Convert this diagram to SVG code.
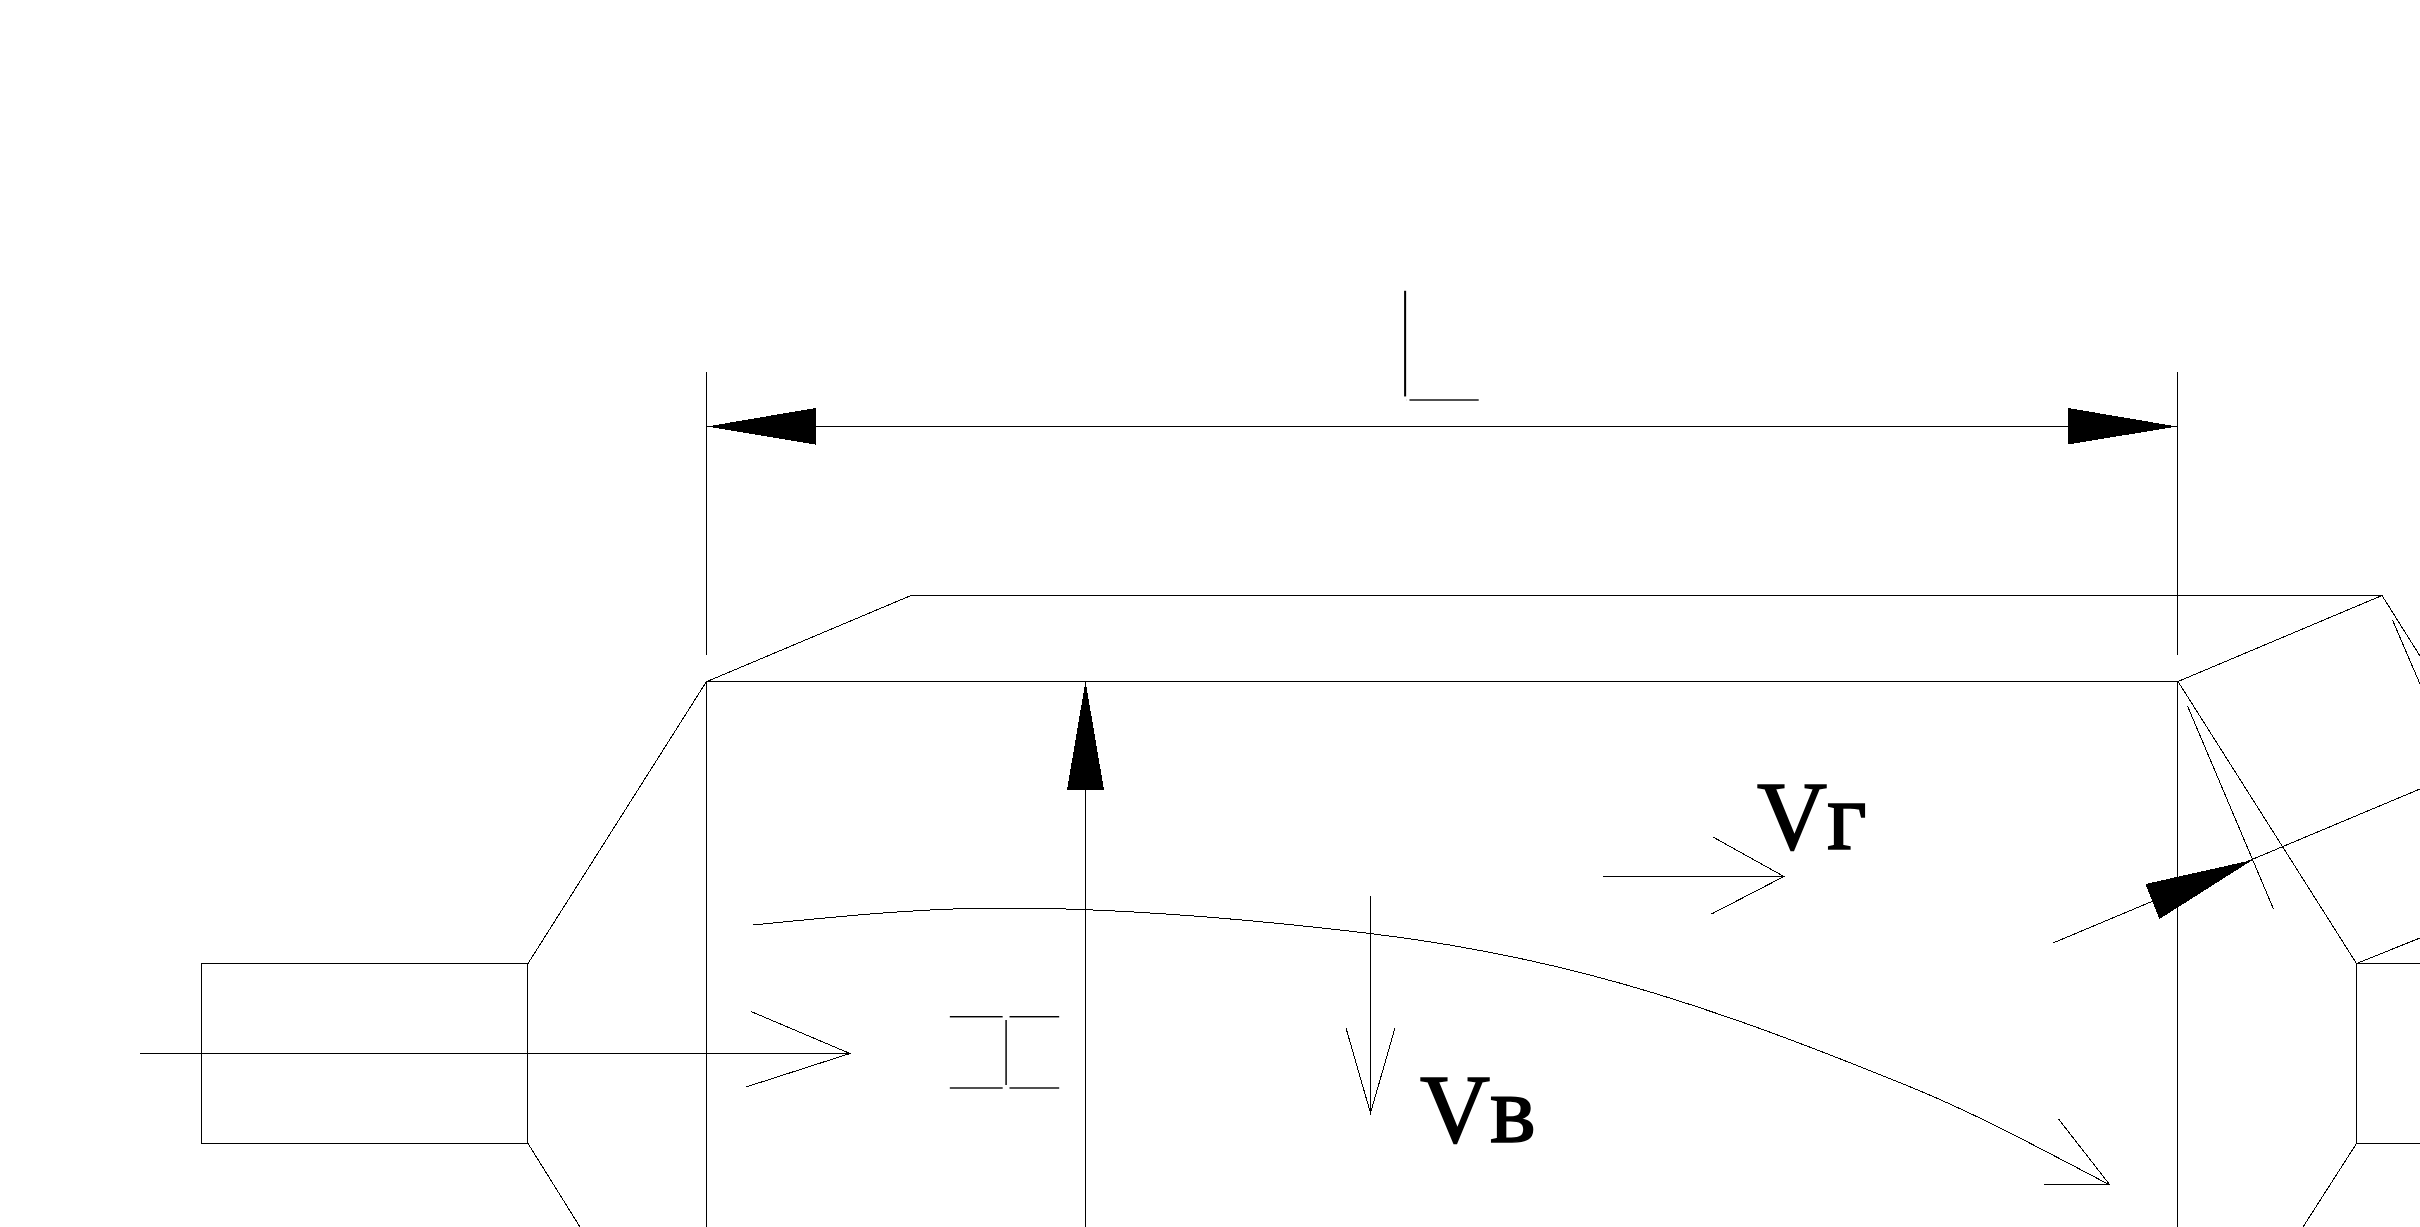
<svg xmlns="http://www.w3.org/2000/svg" width="2420" height="1227" viewBox="0 0 2420 1227">
<style>
.l{fill:none;stroke:#000;stroke-width:1;shape-rendering:crispEdges}
.h{fill:#000;stroke:none;shape-rendering:crispEdges}
.v{font-family:"Liberation Serif","Times New Roman",serif;font-size:97px;fill:#000;stroke:#000;stroke-width:1.6px}
.s{font-family:Roboto,"Liberation Sans",sans-serif;font-weight:100;font-size:158px;fill:#000;stroke:#fff;stroke-width:2.6px}
</style>
<rect width="2420" height="1227" fill="#fff"/>
<g id="labels">
<text id="label-L" class="s" transform="translate(1383 401.5) scale(1.26 1)">L</text>
<text id="label-H" class="s" text-anchor="middle" transform="translate(948 1052.5) rotate(90) scale(.94 1)">H</text>
<text id="label-Vg" class="v" x="1757" y="849">Vг</text>
<text id="label-Vv" class="v" x="1420" y="1142">Vв</text>
</g>
<g id="body">
<rect class="l" x="201.5" y="963.5" width="326" height="180"/>
<path class="l" d="M528 963.5L706.5 681.5M528 1143.5L580 1227"/>
<path class="l" d="M707 681.5H2178M707 681.5L911 595.5H2382L2178 681.5"/>
<path class="l" d="M706.5 681.5V1227M2177.5 681.5V1227"/>
<path class="l" d="M2178 681.5L2356.5 963.5V1143.5L2303 1227M2356.5 963.5H2420M2356.5 1143.5H2420M2356.5 963.5L2420 938M2382 595.5L2420 656"/>
</g>
<g id="connectors">
<path class="l" d="M706.5 372V655M2177.5 372V655M815 426.5H2068"/>
<path class="h" d="M707 426.5L815.5 408V444.5Z"/>
<path class="h" d="M2177 426.5L2068 408V444.5Z"/>
<path class="l" d="M140 1053.5H850M751 1011.5L850 1053.5L746 1087"/>
<path class="l" d="M1085.5 683V1227"/>
<path class="h" d="M1085.5 681L1067 790H1104Z"/>
<path class="l" d="M753 925C836 916.7 920 908 1003 908C1125 908 1248 918.9 1370 933.5C1443 942.3 1517 956 1590 975C1698 1003 1805 1044 1913 1088C1978 1114.6 2043 1150 2108 1184"/>
<path class="l" d="M2058.5 1119L2109.5 1184.5H2044"/>
<path class="l" d="M1603 876.5H1784M1713 837L1784 876.5L1711.5 914"/>
<path class="l" d="M1370.5 896V1113M1346 1028L1370.5 1113L1395 1028"/>
<path class="l" d="M2053 943L2420 789"/>
<path class="h" d="M2252.5 860L2145.5 884L2159.5 919Z"/>
<path class="l" d="M2187.5 706L2273.5 909M2392.5 620L2420 684"/>
</g>
</svg>
